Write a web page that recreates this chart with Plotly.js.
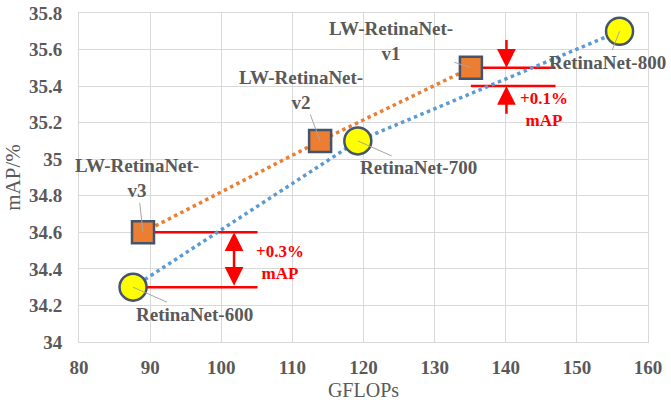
<!DOCTYPE html>
<html><head><meta charset="utf-8">
<script src="https://cdn.plot.ly/plotly-3.0.1.min.js"></script>
<style>body{margin:0}#c{width:671px;height:405px}</style>
</head><body><div id="c"></div>
<script>
const lwNames = ['LW-RetinaNet-<br>v3','LW-RetinaNet-<br>v2','LW-RetinaNet-<br>v1'];
const lwX = [89.0, 113.9, 135.1];
const lwY = [34.6, 35.1, 35.5];
const rnNames = ['RetinaNet-600','RetinaNet-700','RetinaNet-800'];
const rnX = [87.6, 119.2, 156.0];
const rnY = [34.3, 35.1, 35.7];
const xTicks = [80,90,100,110,120,130,140,150,160];
const yTicks = [34,34.2,34.4,34.6,34.8,35,35.2,35.4,35.6,35.8];
const yTickText = ['34','34.2','34.4','34.6','34.8','35','35.2','35.4','35.6','35.8'];
// red guide lines: [x0, x1, y]
const guideLower = [[89.0,105.1,34.6],[87.6,105.1,34.3]];
const guideUpper = [[135.1,147,35.5],[135.1,147,35.4]];
const gain03 = {text:'+0.3%<br>mAP', x:108.3, y:34.433, arrowX:101.8};
const gain01 = {text:'+0.1%<br>mAP', x:145.4, y:35.27, arrowX:140.1, top:35.66, bottom:35.24};
// label offsets in px
const lwOff = [[-6,-54],[-19,-51],[-80,-27]];
const rnOff = [[61,27],[61,27],[-12,31]];

const gray = '#595959';
const serif = 'Liberation Serif';
const traces = [];
[...guideLower, ...guideUpper].forEach(g => traces.push({
  x:[g[0],g[1]], y:[g[2],g[2]], mode:'lines', line:{color:'#FF0000', width:2.5},
  hoverinfo:'skip', showlegend:false
}));
traces.push({x:rnX, y:rnY, mode:'lines+markers', showlegend:false,
  line:{color:'#5B9BD5', width:3.5, dash:'dot'},
  marker:{symbol:'circle', size:27, color:'#FFFF00', line:{color:'#44546A', width:2.5}}});
traces.push({x:lwX, y:lwY, mode:'lines+markers', showlegend:false,
  line:{color:'#ED7D31', width:3.5, dash:'dot'},
  marker:{symbol:'square', size:22, color:'#ED7D31', line:{color:'#44546A', width:2.5}}});

const ann = [];
const lblFont = {family:serif, size:19, color:gray, weight:'bold'};
lwNames.forEach((n,i)=>ann.push({x:lwX[i], y:lwY[i], text:'<b>'+n+'</b>', ax:lwOff[i][0], ay:lwOff[i][1],
  showarrow:true, arrowhead:0, arrowwidth:1, arrowcolor:'#A6A6A6', font:lblFont, standoff:0}));
rnNames.forEach((n,i)=>ann.push({x:rnX[i], y:rnY[i], text:'<b>'+n+'</b>', ax:rnOff[i][0], ay:rnOff[i][1],
  showarrow:true, arrowhead:0, arrowwidth:1, arrowcolor:'#A6A6A6', font:lblFont, standoff:0}));
const redFont = {family:serif, size:17, color:'#FF0000', weight:'bold'};
[gain03, gain01].forEach(g=>ann.push({x:g.x, y:g.y, text:'<b>'+g.text+'</b>', showarrow:false, font:redFont}));
// double arrow for +0.3
ann.push({x:gain03.arrowX, y:guideLower[0][2], ax:gain03.arrowX, ay:guideLower[1][2], axref:'x', ayref:'y',
  text:'', showarrow:true, arrowhead:2, arrowside:'end+start', arrowsize:1.5, arrowwidth:2.5, arrowcolor:'#FF0000'});
// arrows for +0.1
ann.push({x:gain01.arrowX, y:guideUpper[0][2], ax:gain01.arrowX, ay:gain01.top, axref:'x', ayref:'y',
  text:'', showarrow:true, arrowhead:2, arrowsize:1.5, arrowwidth:2.5, arrowcolor:'#FF0000'});
ann.push({x:gain01.arrowX, y:guideUpper[1][2], ax:gain01.arrowX, ay:gain01.bottom, axref:'x', ayref:'y',
  text:'', showarrow:true, arrowhead:2, arrowsize:1.5, arrowwidth:2.5, arrowcolor:'#FF0000'});

const layout = {
  width:671, height:405, margin:{l:79, r:23, t:13, b:63},
  paper_bgcolor:'#fff', plot_bgcolor:'#fff',
  font:{family:serif},
  xaxis:{range:[80,160], tickvals:xTicks, showgrid:true, gridcolor:'#D9D9D9', gridwidth:1,
    zeroline:false, showline:true, linecolor:'#D9D9D9', mirror:true, ticks:'', ticklabelstandoff:8,
    tickfont:{family:serif, size:19, color:gray, weight:'bold'},
    title:{text:'GFLOPs', font:{family:serif, size:20, color:gray}, standoff:6}},
  yaxis:{range:[34,35.8], tickvals:yTicks, ticktext:yTickText, showgrid:true, gridcolor:'#D9D9D9', gridwidth:1,
    zeroline:false, showline:true, linecolor:'#D9D9D9', mirror:true, ticks:'', ticklabelstandoff:12,
    tickfont:{family:serif, size:19, color:gray, weight:'bold'},
    title:{text:'mAP/%', font:{family:serif, size:21, color:gray}, standoff:2}},
  annotations:ann, showlegend:false
};
Plotly.newPlot('c', traces, layout, {staticPlot:true, displayModeBar:false});
</script></body></html>
